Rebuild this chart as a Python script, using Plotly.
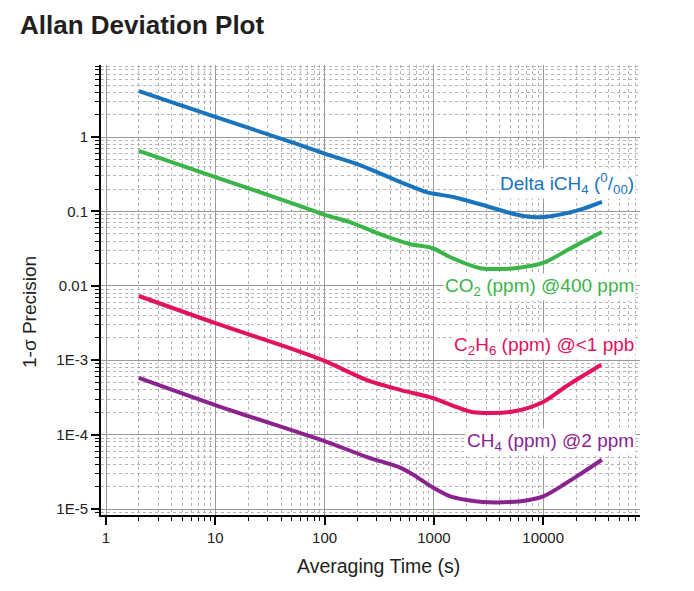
import plotly.graph_objects as go

# ---- data ----
delta_x = [2, 10, 60, 100, 210, 490, 870, 1070, 1500, 2800, 5800, 8000, 10000, 16500, 23000, 34500]
delta_y = [4.15, 1.86, 0.78, 0.60, 0.42, 0.25, 0.18, 0.17, 0.156, 0.122, 0.090, 0.084, 0.084, 0.095, 0.108, 0.134]

co2_x = [2, 10, 60, 100, 170, 340, 600, 980, 1400, 2600, 3500, 5800, 10000, 16500, 23000, 34500]
co2_y = [0.65, 0.29, 0.118, 0.09, 0.072, 0.048, 0.0365, 0.032, 0.0244, 0.0174, 0.0168, 0.0174, 0.0203, 0.030, 0.039, 0.053]

c2h6_x = [2, 10, 60, 100, 245, 490, 980, 1620, 2300, 5300, 10000, 16000, 22000, 34000]
c2h6_y = [0.0073, 0.00316, 0.0013, 0.00098, 0.00054, 0.0004, 0.00031, 0.000234, 0.0002, 0.000205, 0.000275, 0.00044, 0.00059, 0.00087]

ch4_x = [2, 10, 60, 100, 245, 490, 645, 980, 1410, 2000, 2800, 5000, 7000, 10000, 16000, 23000, 34500]
ch4_y = [0.00058, 0.00025, 0.000105, 0.000082, 0.00005, 0.000036, 0.000029, 0.0000195, 0.0000148,
         0.0000132, 0.0000124, 0.0000124, 0.000013, 0.0000148, 0.000022, 0.000031, 0.000046]

series_names = ["Delta iCH<sub>4</sub> (<sup>0</sup>/<sub>00</sub>)",
                "CO<sub>2</sub> (ppm) @400 ppm",
                "C<sub>2</sub>H<sub>6</sub> (ppm) @<1 ppb",
                "CH<sub>4</sub> (ppm) @2 ppm"]
colors = ["#1874bd", "#3bb449", "#e2125e", "#8a238e"]

x_tickvals = [1, 10, 100, 1000, 10000]
x_ticktext = ["1", "10", "100", "1000", "10000"]
y_tickvals = [1, 0.1, 0.01, 1e-3, 1e-4, 1e-5]
y_ticktext = ["1", "0.1", "0.01", "1E-3", "1E-4", "1E-5"]

# ---- figure ----
fig = go.Figure()
for xs, ys, c in zip([delta_x, co2_x, c2h6_x, ch4_x], [delta_y, co2_y, c2h6_y, ch4_y], colors):
    fig.add_trace(go.Scatter(x=xs, y=ys, mode="lines",
                             line=dict(color=c, width=4, shape="spline", smoothing=0.9),
                             showlegend=False, hoverinfo="skip"))

x_minor = [m * 10 ** k for k in range(0, 5) for m in range(2, 10) if m * 10 ** k < 76000]
y_minor = [m * 10.0 ** k for k in range(-6, 1) for m in range(2, 10) if 8e-6 < m * 10.0 ** k < 9.3]

font_family = "Liberation Sans, Arial, sans-serif"
major_grid = "#9a9a9a"
minor_grid = "#b4b4b4"

axis_common = dict(type="log", showline=True, linecolor="black", linewidth=2, mirror=False,
                   ticks="outside", ticklen=8, tickwidth=1.5, tickcolor="black",
                   showgrid=True, gridcolor=major_grid, gridwidth=1, zeroline=False,
                   tickfont=dict(size=15, color="#222", family=font_family))

fig.update_xaxes(range=[-0.046, 4.886], tickvals=x_tickvals, ticktext=x_ticktext,
                 minor=dict(tickvals=x_minor, ticks="outside", ticklen=4, tickwidth=1,
                            tickcolor="black", showgrid=True, gridcolor=minor_grid,
                            griddash="dot", gridwidth=1),
                 **axis_common)
fig.update_yaxes(range=[-5.08, 0.968], tickvals=y_tickvals, ticktext=y_ticktext,
                 minor=dict(tickvals=y_minor, ticks="outside", ticklen=4, tickwidth=1,
                            tickcolor="black", showgrid=True, gridcolor=minor_grid,
                            griddash="dot", gridwidth=1),
                 **axis_common)

# series labels (right aligned, white background)
label_y = [0.7356, 0.5067, 0.3756, 0.162]
for name, c, yy in zip(series_names, colors, label_y):
    fig.add_annotation(text=name, xref="paper", yref="paper", x=0.9926, y=yy,
                       xanchor="right", yanchor="middle", showarrow=False,
                       bgcolor="white", borderpad=1,
                       font=dict(size=19, color=c, family=font_family))

# axis titles
fig.add_annotation(text="Averaging Time (s)", xref="paper", yref="paper",
                   x=(378 - 101) / 539, y=(515 - 566) / 450, xanchor="center", yanchor="middle",
                   showarrow=False, font=dict(size=19.5, color="#222", family=font_family))
fig.add_annotation(text="1-σ Precision", xref="paper", yref="paper",
                   x=(29 - 101) / 539, y=(515 - 312) / 450, xanchor="center", yanchor="middle",
                   textangle=-90, showarrow=False, font=dict(size=19, color="#222", family=font_family))

# page body has an 8px default margin, so offset the layout by it
fig.update_layout(
    width=694, height=591,
    margin=dict(l=93, r=62, t=57, b=84),
    paper_bgcolor="white", plot_bgcolor="white",
    title=dict(text="<b>Allan Deviation Plot</b>", x=12 / 694, xref="container", xanchor="left",
               y=1 - 17 / 591, yref="container", yanchor="middle",
               font=dict(size=26, color="#231f20", family=font_family)),
    font=dict(family=font_family),
)

fig.write_html("out.html")
